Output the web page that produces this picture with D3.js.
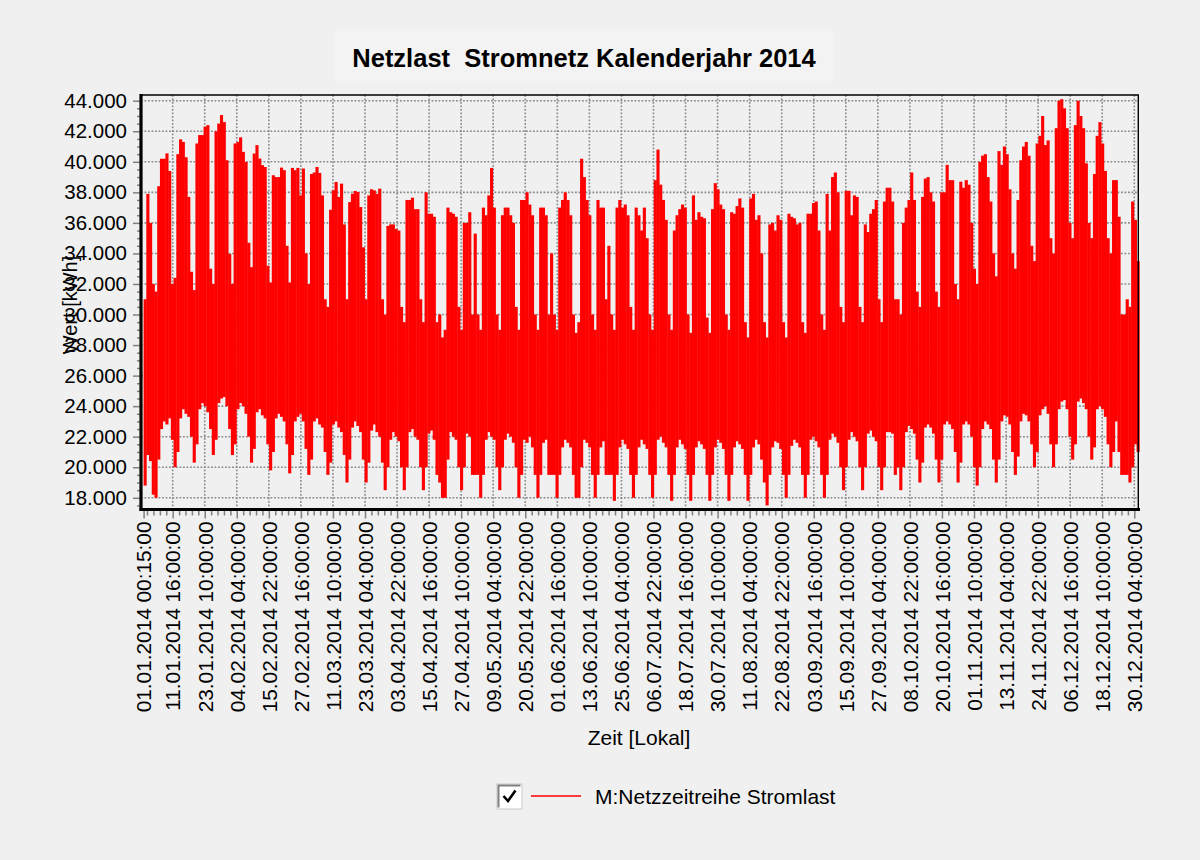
<!DOCTYPE html>
<html>
<head>
<meta charset="utf-8">
<script src="https://cdn.jsdelivr.net/npm/d3@7"></script>
<style>
  body { margin: 0; background: #f0f0f0; }
  text { font-family: "Liberation Sans", Arial, sans-serif; fill: #000; }
</style>
</head>
<body>
<script>
var chartTitle = "Netzlast  Stromnetz Kalenderjahr 2014";
var yTitle = "Wert [kWh]";
var xTitle = "Zeit [Lokal]";
var seriesName = "M:Netzzeitreihe Stromlast";
var startTime = "01.01.2014 00:15:00";
var endTime = "01.01.2015 00:00:00";

var yTicks = [18000, 20000, 22000, 24000, 26000, 28000, 30000, 32000, 34000, 36000, 38000, 40000, 42000, 44000];

var tickLabels = ["01.01.2014 00:15:00", "11.01.2014 16:00:00", "23.01.2014 10:00:00", "04.02.2014 04:00:00",
  "15.02.2014 22:00:00", "27.02.2014 16:00:00", "11.03.2014 10:00:00", "23.03.2014 04:00:00",
  "03.04.2014 22:00:00", "15.04.2014 16:00:00", "27.04.2014 10:00:00", "09.05.2014 04:00:00",
  "20.05.2014 22:00:00", "01.06.2014 16:00:00", "13.06.2014 10:00:00", "25.06.2014 04:00:00",
  "06.07.2014 22:00:00", "18.07.2014 16:00:00", "30.07.2014 10:00:00", "11.08.2014 04:00:00",
  "22.08.2014 22:00:00", "03.09.2014 16:00:00", "15.09.2014 10:00:00", "27.09.2014 04:00:00",
  "08.10.2014 22:00:00", "20.10.2014 16:00:00", "01.11.2014 10:00:00", "13.11.2014 04:00:00",
  "24.11.2014 22:00:00", "06.12.2014 16:00:00", "18.12.2014 10:00:00", "30.12.2014 04:00:00"];

// daily maximum load (kWh), 01.01. - 31.12.
var dailyMax = [
  // Jan
  31000, 37900, 36000, 32000, 31500,
  38400, 40200, 40200, 40550, 39400, 32000, 32400,
  40500, 41470, 41300, 40300, 37700, 32800, 31600,
  41200, 41750, 41750, 42300, 42400, 33000, 32000,
  42000, 42500, 43060, 42600, 40100,
  // Feb
  33970, 32000,
  41200, 41300, 41600, 40650, 39990, 34700, 33100,
  40540, 41090, 40210, 39780, 39660, 33200, 32100,
  39120, 39000, 39000, 39620, 39450, 34500, 32100,
  39600, 39450, 39600, 37800, 39560,
  // Mar
  34000, 32000,
  39200, 39300, 39660, 39270, 37800, 31000, 30500,
  36860, 38130, 38680, 37700, 38570, 35900, 31000,
  37360, 37900, 38090, 38020, 37040, 34400, 31000,
  37800, 38200, 38130, 37900, 38240, 31000, 30000,
  35800,
  // Apr
  35900, 35900, 35600, 35500, 30500, 29500,
  37500, 37500, 37650, 36900, 36900, 31000, 29500,
  38000, 36600, 36600, 36400, 29500, 30000, 28500,
  29000, 37000, 36700, 36600, 36400, 30500, 29000,
  36000, 36000, 36700,
  // May
  30000, 35300, 30000, 29000,
  37000, 36500, 37800, 39600, 37000, 30000, 29000,
  36500, 37000, 37000, 36500, 36000, 30500, 29000,
  37500, 37500, 38000, 37200, 36500, 30000, 29000,
  37000, 37000, 36500, 30000, 34000, 30000,
  // Jun
  29000,
  37000, 37500, 38000, 37500, 36500, 30000, 28800,
  29500, 40200, 39000, 37500, 36500, 30000, 29000,
  37500, 37000, 37000, 31000, 34500, 30000, 29000,
  37000, 37500, 37000, 37200, 36500, 30500, 29000,
  37000,
  // Jul
  36500, 35500, 37000, 35000, 30000, 29000,
  38800, 40800, 38500, 37500, 36200, 30000, 29000,
  35500, 36500, 36900, 37200, 37000, 30000, 28800,
  37800, 36200, 36700, 36400, 36300, 29800, 28800,
  36900, 38600, 38200, 37200,
  // Aug
  36900, 30000, 29000,
  36700, 36600, 37100, 37600, 37000, 29500, 28500,
  37600, 37900, 36200, 36500, 34000, 29500, 28500,
  35900, 36000, 35500, 36500, 36200, 29500, 28500,
  36600, 36400, 36300, 35900, 36000, 29500, 28800,
  // Sep
  36600, 36600, 37300, 37400, 35500, 30000, 29000,
  37900, 35500, 39000, 39300, 38000, 30500, 29500,
  38100, 38100, 36500, 37800, 37700, 30500, 29500,
  35900, 35400, 36600, 36900, 37500, 31000, 29500,
  37400, 38300,
  // Oct
  38300, 37400, 31000, 31000, 30000,
  36000, 37000, 37500, 39300, 37500, 31500, 30500,
  37700, 38900, 39000, 38000, 37400, 31500, 30500,
  38000, 38000, 39800, 38800, 38800, 32000, 31000,
  38700, 38300, 38800, 38500, 36000,
  // Nov
  33000, 32000,
  40000, 40400, 40500, 39000, 37400, 34000, 32500,
  40700, 39800, 41000, 40500, 38200, 34000, 33000,
  37500, 40100, 41000, 41300, 40400, 34500, 33500,
  41200, 41700, 43000, 41100, 41400, 35000, 34000,
  // Dec
  42200, 44000, 44100, 43500, 42200, 36000, 35000,
  42400, 44000, 43000, 42200, 39900, 36000, 35000,
  39200, 41700, 42600, 41200, 39400, 35000, 34000,
  38800, 38800, 36400, 30000, 30000, 31000, 30500,
  37400, 36200, 33500
];

// daily minimum load (kWh), 01.01. - 31.12.
var dailyMin = [
  // Jan
  18800, 20800, 20400, 18200, 18000,
  20500, 22500, 23000, 22800, 23200, 21800, 20000,
  21000, 23200, 23800, 23500, 23300, 22000, 20300,
  21500, 23800, 24200, 24000, 23600, 22500, 20800,
  21800, 24200, 24500, 24600, 24000,
  // Feb
  22500, 20800,
  21500, 23800, 24200, 24000, 23500, 22000, 20300,
  21200, 23600, 23800, 23400, 23200, 21500, 19800,
  21000, 23200, 23500, 23300, 23000, 21500, 19600,
  20800, 23000, 23300, 23500, 23000,
  // Mar
  21200, 19500,
  20500, 23000, 23200, 22800, 22600, 21000, 19500,
  20300, 22800, 23000, 22600, 22300, 20800, 19000,
  20500, 22600, 23000, 22700, 22300, 20500, 19000,
  20300, 22400, 22800, 22300, 22000, 20300, 18500,
  20000,
  // Apr
  21800, 22300, 22000, 21700, 20000, 18500,
  20000, 22300, 22500, 22000, 21800, 20000, 18500,
  20000, 22200, 22400, 21800, 19500, 19000, 18000,
  18000, 20500, 22300, 22000, 21800, 20000, 18500,
  20000, 22200, 22000,
  // May
  19500, 19500, 19500, 18000,
  19500, 21800, 22300, 22000, 21800, 20000, 18500,
  20000, 21800, 22200, 22000, 21600, 20000, 18000,
  19500, 21800, 21600, 22000, 21300, 19500, 18000,
  19500, 21600, 21800, 19500, 19500, 19500,
  // Jun
  18000,
  19500, 21300, 21800, 21600, 21300, 19500, 18000,
  18000, 20000, 21800, 21600, 21300, 19500, 18000,
  19500, 21300, 21700, 19500, 19500, 19500, 17800,
  19500, 21300, 21800, 21500, 21200, 19500, 18000,
  19500,
  // Jul
  21300, 21800, 21500, 21200, 19500, 18000,
  19500, 21800, 22000, 21600, 21300, 19500, 17800,
  19500, 21300, 21800, 21500, 21200, 19500, 17800,
  19500, 21300, 21700, 21500, 21200, 19500, 17800,
  19500, 21300, 21800, 21600,
  // Aug
  21200, 19500, 17800,
  19500, 21300, 21700, 21500, 21200, 19500, 17800,
  19500, 21300, 21800, 21500, 20500, 19000, 17500,
  19500, 21300, 21700, 21600, 21200, 19500, 18000,
  19500, 21400, 21800, 21600, 21300, 19500, 18000,
  // Sep
  19500, 21800, 22000, 21700, 21300, 19500, 18000,
  19500, 21800, 22200, 22000, 21600, 20000, 18500,
  20000, 21800, 22300, 22000, 21700, 20000, 18500,
  20000, 22200, 22400, 22000, 21700, 20000, 18500,
  20000, 22300,
  // Oct
  22300, 22200, 19500, 20000, 18500,
  20000, 22300, 22700, 22500, 22200, 20500, 19000,
  20300, 22600, 22800, 22600, 22200, 20500, 19000,
  20500, 22800, 23000, 22800, 22500, 21000, 19000,
  20300, 22800, 23000, 22800, 22000,
  // Nov
  20000, 18800,
  20000, 22500, 23000, 22800, 22500, 20500, 19000,
  20500, 23000, 23400, 23300, 22800, 21000, 19500,
  20700, 23000, 23500, 23400, 23000, 21500, 20000,
  21000, 23400, 23800, 24000, 23500, 21500, 20000,
  // Dec
  21500, 23800, 24300, 24400, 23800, 22000, 20500,
  21500, 24300, 24500, 24200, 23800, 22000, 20500,
  21300, 23800, 24000, 23800, 23300, 21500, 20000,
  21000, 23000, 21000, 19500, 19500, 19500, 19000,
  20000, 21500, 21000
];

var width = 1200, height = 860;
var plotLeft = 141, plotRight = 1139, plotTop = 95, plotBottom = 509.5;

var svg = d3.select("body").append("svg")
    .attr("width", width)
    .attr("height", height);

svg.append("rect")
    .attr("width", width)
    .attr("height", height)
    .attr("fill", "#f0f0f0");

var parseTime = d3.utcParse("%d.%m.%Y %H:%M:%S");
var t0 = parseTime(startTime), t1 = parseTime(endTime);

var x = d3.scaleUtc()
    .domain([t0, t1])
    .range([143.6, 1139.3]);

var y = d3.scaleLinear()
    .domain([17233, 44374])
    .range([plotBottom, plotTop]);

var deLocale = d3.formatLocale({ decimal: ",", thousands: ".", grouping: [3], currency: ["", " €"] });
var fmt = deLocale.format(",.0f");

// title
svg.append("rect")
    .attr("x", 335).attr("y", 29)
    .attr("width", 498).attr("height", 52)
    .attr("fill", "#f3f3f3");
svg.append("text")
    .attr("x", 584).attr("y", 67)
    .attr("text-anchor", "middle")
    .attr("font-size", 25.5)
    .attr("font-weight", "bold")
    .style("white-space", "pre")
    .text(chartTitle);

// grid
var majorDates = tickLabels.map(parseTime);
var grid = svg.append("g")
    .attr("stroke", "#8a8a8a")
    .attr("stroke-width", 1.6)
    .attr("stroke-dasharray", "1.8,1.7");
grid.selectAll(".hgrid")
    .data(yTicks)
    .enter().append("line")
    .attr("x1", plotLeft).attr("x2", plotRight)
    .attr("y1", function(d) { return y(d); })
    .attr("y2", function(d) { return y(d); });
grid.selectAll(".vgrid")
    .data(majorDates.slice(1))
    .enter().append("line")
    .attr("y1", plotTop).attr("y2", plotBottom)
    .attr("x1", function(d) { return x(d); })
    .attr("x2", function(d) { return x(d); });

// data: one column per day from daily minimum to daily maximum
var dayMs = 86400000;
var dayStart = Date.UTC(2014, 0, 1);
var days = d3.range(Math.min(dailyMax.length, dailyMin.length)).map(function(i) {
  return {
    start: new Date(Math.max(dayStart + i * dayMs, +t0)),
    end: new Date(dayStart + (i + 1) * dayMs),
    max: dailyMax[i],
    min: dailyMin[i]
  };
});

svg.append("g")
    .attr("fill", "#ff0000")
    .selectAll("rect")
    .data(days)
    .enter().append("rect")
    .attr("x", function(d) { return x(d.start); })
    .attr("width", function(d) { return x(d.end) - x(d.start) + 0.4; })
    .attr("y", function(d) { return y(d.max); })
    .attr("height", function(d) { return y(d.min) - y(d.max); });

// y axis
var yMinor = d3.range(17500, 44001, 500).filter(function(v) { return v % 2000 !== 0; });
svg.append("g")
    .attr("transform", "translate(" + plotLeft + ",0)")
    .call(d3.axisLeft(y).tickValues(yMinor).tickSize(4).tickFormat(""))
    .call(function(g) { g.select(".domain").remove(); })
    .call(function(g) { g.selectAll("line").attr("stroke", "#808080").attr("stroke-width", 1.5); });

var yAxis = svg.append("g")
    .attr("transform", "translate(" + plotLeft + ",0)")
    .call(d3.axisLeft(y).tickValues(yTicks).tickSize(8).tickPadding(6).tickFormat(fmt));
yAxis.select(".domain").remove();
yAxis.selectAll("line").attr("stroke", "#808080").attr("stroke-width", 1.5);
yAxis.selectAll("text")
    .attr("font-size", 20.5)
    .attr("font-family", "'Liberation Sans', Arial, sans-serif")
    .attr("fill", "#000");

// x axis
var step = majorDates[2] - majorDates[1];
var minorStep = step / 5;
var xMinor = [];
for (var t = +majorDates[1] - minorStep; t > +t0; t -= minorStep) xMinor.push(new Date(t));
for (var k = 1; k < majorDates.length; k++) {
  for (var m = 1; m < 5; m++) {
    var tm = +majorDates[k] + m * minorStep;
    if (tm < +t1) xMinor.push(new Date(tm));
  }
}

svg.append("g")
    .attr("transform", "translate(0," + (plotBottom + 1) + ")")
    .call(d3.axisBottom(x).tickValues(xMinor).tickSize(5).tickFormat(""))
    .call(function(g) { g.select(".domain").remove(); })
    .call(function(g) { g.selectAll("line").attr("stroke", "#808080").attr("stroke-width", 1.5); });

var xAxis = svg.append("g")
    .attr("transform", "translate(0," + (plotBottom + 1) + ")")
    .call(d3.axisBottom(x).tickValues(majorDates).tickSize(8)
      .tickFormat(function(d, i) { return tickLabels[i]; }));
xAxis.select(".domain").remove();
xAxis.selectAll("line").attr("stroke", "#808080").attr("stroke-width", 1.5);
xAxis.selectAll("text")
    .attr("font-size", 20.8)
    .attr("font-family", "'Liberation Sans', Arial, sans-serif")
    .attr("fill", "#000")
    .attr("text-anchor", "end")
    .attr("transform", "translate(0,11) rotate(-90)")
    .attr("x", 0)
    .attr("y", 0)
    .attr("dy", "0.35em");

// frame
var frame = svg.append("g").attr("stroke", "#000").attr("fill", "none");
frame.append("line").attr("x1", plotLeft - 1).attr("x2", plotRight).attr("y1", plotTop).attr("y2", plotTop).attr("stroke-width", 1.6);
frame.append("line").attr("x1", plotRight - 0.7).attr("x2", plotRight - 0.7).attr("y1", plotTop).attr("y2", plotBottom).attr("stroke-width", 1.4);
frame.append("line").attr("x1", plotLeft).attr("x2", plotLeft).attr("y1", plotTop - 1).attr("y2", plotBottom + 1.5).attr("stroke-width", 3.2);
frame.append("line").attr("x1", plotLeft - 1.5).attr("x2", plotRight + 1).attr("y1", plotBottom).attr("y2", plotBottom).attr("stroke-width", 3);

// axis titles
svg.append("text")
    .attr("transform", "translate(77,305) rotate(-90)")
    .attr("text-anchor", "middle")
    .attr("font-size", 20)
    .text(yTitle);
svg.append("text")
    .attr("x", 639).attr("y", 745)
    .attr("text-anchor", "middle")
    .attr("font-size", 21)
    .text(xTitle);

// legend
var legend = svg.append("g");
legend.append("rect").attr("x", 497).attr("y", 784).attr("width", 25).attr("height", 25)
    .attr("fill", "#fff").attr("stroke", "#c8c8c8").attr("stroke-width", 1);
legend.append("path").attr("d", "M498.5,807.5 V785.5 H520.5").attr("fill", "none").attr("stroke", "#808080").attr("stroke-width", 2);
legend.append("path").attr("d", "M503.5,796 L508,801 L515.5,790.5").attr("fill", "none").attr("stroke", "#000").attr("stroke-width", 2.6);
legend.append("line").attr("x1", 531).attr("x2", 581).attr("y1", 796).attr("y2", 796)
    .attr("stroke", "#ff0000").attr("stroke-width", 1.5);
legend.append("text").attr("x", 595).attr("y", 804).attr("font-size", 21).text(seriesName);
</script>
</body>
</html>
